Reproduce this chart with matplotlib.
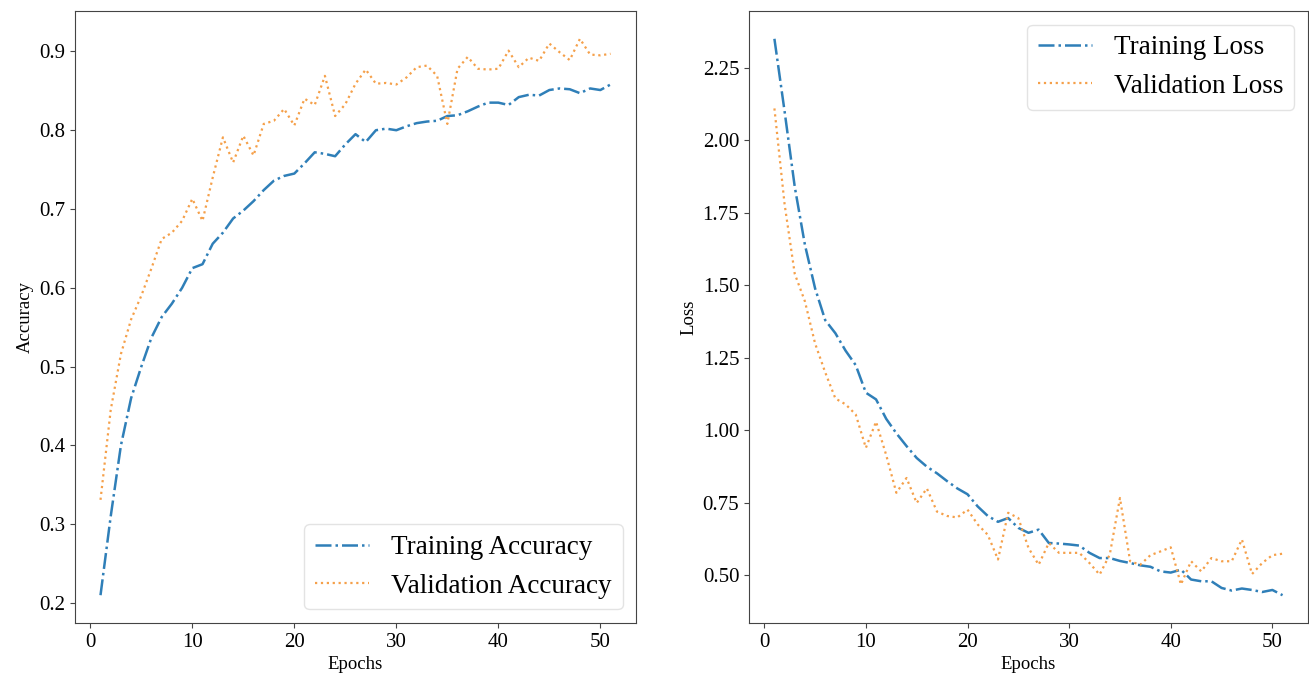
import matplotlib
matplotlib.use("Agg")
import matplotlib.pyplot as plt
import numpy as np

plt.rcParams['font.family'] = ['Liberation Serif', 'DejaVu Serif']

epochs = list(range(1, 52))

train_acc = [0.21, 0.31, 0.40, 0.46, 0.50, 0.537, 0.563, 0.58, 0.60, 0.625,
             0.630, 0.656, 0.670, 0.688, 0.698, 0.710, 0.724, 0.736, 0.742, 0.745,
             0.758, 0.772, 0.770, 0.767, 0.782, 0.795, 0.785, 0.800, 0.802, 0.800,
             0.805, 0.809, 0.811, 0.812, 0.818, 0.819, 0.824, 0.830, 0.835, 0.835,
             0.832, 0.842, 0.845, 0.844, 0.851, 0.853, 0.852, 0.847, 0.853, 0.851,
             0.858]
val_acc = [0.331, 0.445, 0.516, 0.56, 0.59, 0.625, 0.662, 0.670, 0.685, 0.713,
           0.685, 0.740, 0.791, 0.759, 0.793, 0.768, 0.808, 0.812, 0.827, 0.806,
           0.840, 0.832, 0.869, 0.818, 0.833, 0.859, 0.877, 0.859, 0.860, 0.858,
           0.867, 0.880, 0.882, 0.869, 0.808, 0.878, 0.893, 0.878, 0.877, 0.878,
           0.901, 0.880, 0.892, 0.888, 0.910, 0.899, 0.889, 0.916, 0.896, 0.895,
           0.897]
train_loss = [2.35, 2.10, 1.84, 1.64, 1.49, 1.38, 1.335, 1.275, 1.225, 1.13,
              1.107, 1.04, 0.99, 0.946, 0.905, 0.875, 0.852, 0.825, 0.80, 0.78,
              0.738, 0.705, 0.685, 0.698, 0.664, 0.647, 0.658, 0.612, 0.610, 0.607,
              0.603, 0.578, 0.56, 0.56, 0.55, 0.543, 0.535, 0.53, 0.514, 0.51,
              0.52, 0.486, 0.48, 0.48, 0.457, 0.448, 0.455, 0.45, 0.443, 0.45,
              0.432]
val_loss = [2.11, 1.78, 1.54, 1.445, 1.30, 1.20, 1.11, 1.09, 1.055, 0.94,
            1.03, 0.915, 0.785, 0.836, 0.75, 0.80, 0.72, 0.705, 0.70, 0.727,
            0.676, 0.64, 0.555, 0.716, 0.698, 0.595, 0.537, 0.612, 0.578, 0.578,
            0.578, 0.543, 0.503, 0.572, 0.767, 0.549, 0.537, 0.57, 0.583, 0.597,
            0.469, 0.549, 0.514, 0.56, 0.549, 0.549, 0.624, 0.505, 0.543, 0.57,
            0.575]

BLUE = '#2f7fb8'
ORANGE = '#f5a04a'

fig = plt.figure(figsize=(13.09, 6.78), dpi=100)
ax1 = fig.add_axes([0.0573, 0.0811, 0.4286, 0.9027])
ax2 = fig.add_axes([0.5722, 0.0811, 0.4270, 0.9027])

ax1.plot(epochs, train_acc, linestyle='-.', color=BLUE, lw=1.8, label='Training Accuracy')
ax1.plot(epochs, val_acc, linestyle=':', color=ORANGE, lw=1.6, label='Validation Accuracy')
ax1.set_xlabel('Epochs', fontsize=13.5, labelpad=3)
ax1.set_ylabel('Accuracy', fontsize=13.5, labelpad=4)
ax1.legend(loc='lower right', fontsize=19.5, fancybox=True, framealpha=0.8, edgecolor='#dddddd')

ax2.plot(epochs, train_loss, linestyle='-.', color=BLUE, lw=1.8, label='Training Loss')
ax2.plot(epochs, val_loss, linestyle=':', color=ORANGE, lw=1.6, label='Validation Loss')
ax2.set_xlabel('Epochs', fontsize=13.5, labelpad=3)
ax2.set_ylabel('Loss', fontsize=13.5, labelpad=4)
ax2.set_yticks([0.5, 0.75, 1.0, 1.25, 1.5, 1.75, 2.0, 2.25])
ax2.legend(loc='upper right', fontsize=19.5, fancybox=True, framealpha=0.8, edgecolor='#dddddd')

for ax in (ax1, ax2):
    ax.set_xticks([0, 10, 20, 30, 40, 50])
    ax.tick_params(labelsize=15, color='#444444')
    for s in ax.spines.values():
        s.set_color('#444444')

fig.savefig('out.png', dpi=100)
